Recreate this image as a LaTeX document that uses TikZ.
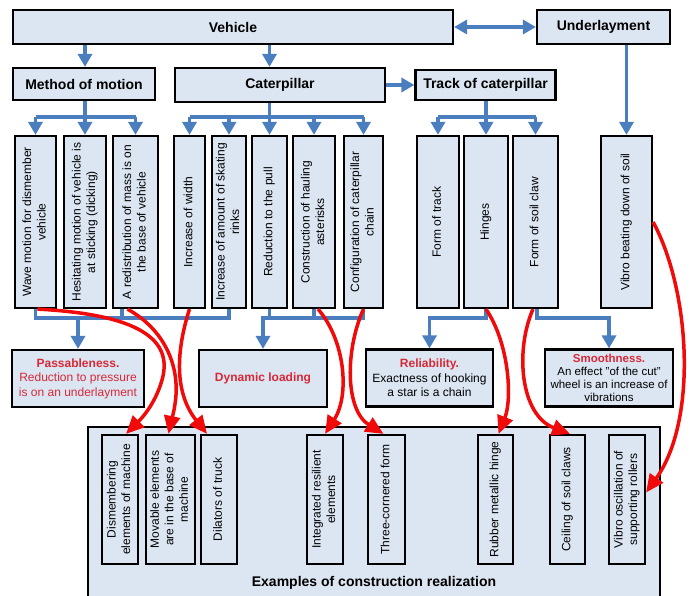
\documentclass[tikz,border=0pt]{standalone}
\usepackage{fontspec}
\setmainfont{Liberation Sans}
\usepackage{graphicx}
\usetikzlibrary{arrows.meta}

\definecolor{boxfill}{RGB}{220,230,242}
\definecolor{linkblue}{RGB}{74,126,190}
\definecolor{linkred}{RGB}{240,10,10}
\definecolor{headred}{RGB}{215,40,55}

% rotated text inside the tall boxes
\newcommand{\vt}[1]{\rotatebox{90}{\begin{tabular}{@{}c@{}}#1\end{tabular}}}

\tikzset{
  boxbase/.style={draw=black, line width=2.2pt, fill=boxfill, inner sep=0pt},
  hdr/.style={boxbase, font=\fontsize{14}{16}\selectfont\bfseries},
  tall/.style={boxbase, minimum height=172, font=\fontsize{12}{14.5}\selectfont},
  small/.style={boxbase, minimum height=129, font=\fontsize{12}{14.5}\selectfont},
  effect/.style={boxbase, minimum height=57, align=center, font=\fontsize{12}{14.5}\selectfont},
  bl/.style={draw=linkblue, line width=3.5pt, line join=miter},
  bla/.style={bl, -{Triangle[length=13pt,width=14pt]}},
  rd/.style={draw=linkred, line width=3.5pt, -{Triangle[length=18pt,width=16pt]}}
}

\begin{document}
\begin{tikzpicture}[x=1pt, y=-1pt]
\useasboundingbox (0,0) rectangle (691,596);
\clip (0,0) rectangle (691,596);

% Header row
\node[hdr, minimum width=440, minimum height=34] (veh) at (233,27) {Vehicle};
\node[hdr, minimum width=133, minimum height=34] (und) at (603.5,27) {Underlayment};
\node[hdr, minimum width=142, minimum height=32] (mom) at (84,84) {Method of motion};
\node[hdr, minimum width=210, minimum height=34] (cat) at (280,85) {Caterpillar};
\node[hdr, minimum width=140, minimum height=30] (trk) at (485.5,85) {Track of caterpillar};

% Tall boxes
\node[tall, minimum width=41] (w1) at (35.5,222) {\vt{Wave motion for dismember\\vehicle}};
\node[tall, minimum width=42] (w2) at (85,222) {\vt{Hesitating motion of vehicle is\\at sticking (dicking)}};
\node[tall, minimum width=45] (w3) at (135.5,222) {\vt{A redistribution of mass is on\\the base of vehicle}};
\node[tall, minimum width=31] (c1) at (189.5,222) {\vt{Increase of width}};
\node[tall, minimum width=34] (c2) at (229,222) {\vt{Increase of amount of skating\\rinks}};
\node[tall, minimum width=35] (c3) at (269.5,222) {\vt{Reduction to the pull}};
\node[tall, minimum width=42] (c4) at (314,222) {\vt{Construction of hauling\\asterisks}};
\node[tall, minimum width=39] (c5) at (363.5,222) {\vt{Configuration of caterpillar\\chain}};
\node[tall, minimum width=42] (t1) at (438,222) {\vt{Form of track}};
\node[tall, minimum width=44] (t2) at (486,222) {\vt{Hinges}};
\node[tall, minimum width=45] (t3) at (535.5,222) {\vt{Form of soil claw}};
\node[tall, minimum width=51] (u1) at (626.5,222) {\vt{Vibro beating down of soil}};

% Top connectors
\draw[bla] (veh.south -| w2) -- (mom.north -| w2);
\draw[bla] (veh.south -| c3) -- (cat.north -| c3);
\draw[bl, {Triangle[length=13pt,width=14pt]}-{Triangle[length=13pt,width=14pt]}] (veh.east) -- (und.west);
\draw[bla] (cat.east) -- (trk.west);
\draw[bla] (und.south -| u1) -- (u1.north);

% Branches into the tall boxes
\coordinate (bus) at (0,117);
\draw[bl] (mom.south -| w2) -- (w2.north |- bus);
\draw[bl] (w1.north |- bus) -- (w3.north |- bus);
\foreach \b in {w1,w2,w3} \draw[bla] (\b.north |- bus) -- (\b.north);
\draw[bl] (cat.south -| c3) -- (c3.north |- bus);
\draw[bl] (c1.north |- bus) -- (c5.north |- bus);
\foreach \b in {c1,c2,c3,c4,c5} \draw[bla] (\b.north |- bus) -- (\b.north);
\draw[bl] (trk.south -| t2) -- (t2.north |- bus);
\draw[bl] (t1.north |- bus) -- (t3.north |- bus);
\foreach \b in {t1,t2,t3} \draw[bla] (\b.north |- bus) -- (\b.north);

% Effects
\node[effect, minimum width=132] (pass) at (78,378.5) {\textcolor{headred}{\textbf{Passableness.}}\\\textcolor{headred}{Reduction to pressure}\\\textcolor{headred}{is on an underlayment}};
\node[effect, minimum width=128] (dyn) at (263,378.5) {\textcolor{headred}{\textbf{Dynamic loading}}};
\node[effect, minimum width=127] (rel) at (429.5,378) {\textcolor{headred}{\textbf{Reliability.}}\\Exactness of hooking\\a star is a chain};
\node[effect, minimum width=128, font=\fontsize{11.5}{13}\selectfont] (smo) at (609,378) {\textcolor{headred}{\textbf{Smoothness.}}\\An effect "of the cut"\\wheel is an increase of\\vibrations};

% Connectors into the effects
\coordinate (low) at (0,318);
\draw[bl] (w1.south) |- (c2.south |- low) -- (c2.south);
\draw[bl] ([xshift=-13.5pt]w3.south) -- ([xshift=-13.5pt]w3.south |- low);
\draw[bla] (pass.north |- low) -- (pass.north);
\draw[bl] (c3.south) -- (c3.south |- low);
\draw[bl] (c4.south) -- (c4.south |- low);
\draw[bla] (c5.south) |- (dyn.north |- low) -- (dyn.north);
\draw[bla] (t2.south) |- (rel.north |- low) -- (rel.north);
\draw[bla] ([xshift=1.5pt]t3.south) |- (smo.north |- low) -- (smo.north);

% Examples of construction realization
\draw[boxbase] (88,427) rectangle (660,620);
\node[font=\fontsize{14}{16}\selectfont\bfseries] (ex) at (374,583) {Examples of construction realization};
\node[small, minimum width=36] (b1) at (120,499.5) {\vt{Dismembering\\elements of machine}};
\node[small, minimum width=49] (b2) at (170.5,499.5) {\vt{Movable elements\\are in the base of\\machine}};
\node[small, minimum width=36] (b3) at (219,499.5) {\vt{Dilators of truck}};
\node[small, minimum width=36] (b4) at (325,499.5) {\vt{Integrated resilient\\elements}};
\node[small, minimum width=37] (b5) at (386.5,499.5) {\vt{Three-cornered form}};
\node[small, minimum width=35] (b6) at (495.5,499.5) {\vt{Rubber metallic hinge}};
\node[small, minimum width=35] (b7) at (567.5,499.5) {\vt{Ceiling of soil claws}};
\node[small, minimum width=36] (b8) at (627,499.5) {\vt{Vibro oscillation of\\supporting rollers}};

% Red links to the realizations
\draw[rd] ([xshift=2pt]w1.south) .. controls (150,315) and (172,345) .. (162,380) .. controls (155,405) and (140,420) .. ([xshift=6pt]b1.north);
\draw[rd] ([xshift=-8pt]w3.south) .. controls (165,330) and (178,365) .. (176,395) .. controls (175,410) and (171,422) .. ([xshift=-2pt]b2.north);
\draw[rd] (c1.south) .. controls (178,345) and (172,390) .. ([xshift=-12pt]b3.north);
\draw[rd] ([xshift=4pt]c4.south) .. controls (345,340) and (350,395) .. (b4.north);
\draw[rd] (c5.south) .. controls (345,350) and (345,410) .. ([xshift=-3pt]b5.north);
\draw[rd] (t2.south) .. controls (510,345) and (512,400) .. ([xshift=3pt]b6.north);
\draw[rd] ([xshift=-2.5pt]t3.south) .. controls (515,350) and (520,415) .. ([xshift=2.5pt]b7.north);
\draw[rd] (u1.east) .. controls (690,290) and (698,420) .. ([yshift=7pt]b8.east);

\end{tikzpicture}
\end{document}
